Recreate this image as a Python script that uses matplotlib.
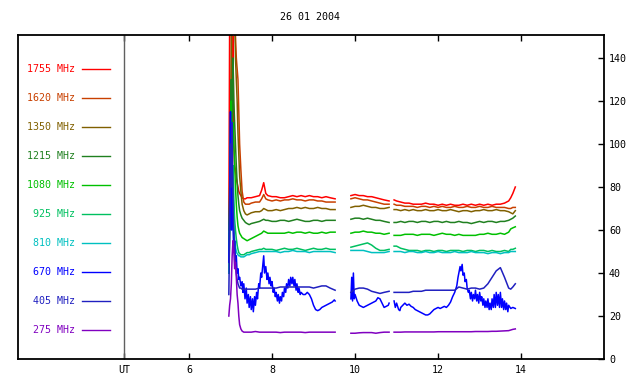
import matplotlib.pyplot as plt
import numpy as np

plt.rcParams['font.family'] = 'DejaVu Sans Mono'
plt.rcParams['font.size'] = 7.2

nan = np.nan

# time axis (UT hours), gaps in the record at 9.7 and 10.88
t = ([6.96, 6.98, 7.00, 7.02, 7.04, 7.06, 7.08, 7.10, 7.12, 7.14, 7.16, 7.18, 7.20, 7.22,
      7.25, 7.28, 7.32, 7.36, 7.40, 7.45, 7.50, 7.60, 7.70, 7.75, 7.80, 7.85, 7.90,
      8.0, 8.1, 8.2, 8.3, 8.4, 8.5, 8.6, 8.7, 8.8, 8.9, 9.0, 9.1, 9.2, 9.3, 9.4, 9.52]
     + [9.7]
     + [9.90, 10.0, 10.1, 10.2, 10.3, 10.4, 10.5, 10.6, 10.7, 10.82]
     + [10.88]
     + [10.94, 11.0, 11.1, 11.2, 11.3, 11.4, 11.5, 11.6, 11.7, 11.8, 11.9, 12.0, 12.1, 12.2,
        12.3, 12.4, 12.5, 12.6, 12.7, 12.8, 12.9, 13.0, 13.1, 13.2, 13.3, 13.4, 13.5, 13.6,
        13.7, 13.75, 13.8, 13.86])

f1755 = ([60, 160, 160, 160, 120, 150, 100, 90, 88, 84, 82, 80, 78, 77,
          76, 75, 74.5, 74.5, 75, 75, 75, 75.5, 76, 78.5, 82, 77, 76,
          75.5, 75.5, 75, 75, 75.5, 76, 75.5, 76, 75.5, 76, 75.5, 75.5, 75, 75.5, 75, 74.5]
         + [nan]
         + [76, 76.5, 76, 76, 75.5, 75.5, 75, 74.5, 74, 73.5]
         + [nan]
         + [74, 73.5, 73, 72.5, 72.5, 72, 72, 72, 72.5, 72, 72, 71.5, 72, 71.5,
            72, 71.5, 71.5, 72, 71.5, 72, 71.5, 72, 71.5, 72, 71.5, 72, 72, 72.5,
            73.5, 75, 77, 80])

f1620 = ([40, 60, 90, 130, 160, 160, 160, 160, 150, 140, 135, 130, 115, 100,
          88, 78, 73, 72, 72, 72, 72.5, 73, 73, 74.5, 76.5, 74.5, 74,
          73.5, 74, 73.5, 74, 74, 74.5, 74, 74, 73.5, 74, 74, 73.5, 73.5, 73, 73, 73]
         + [nan]
         + [74.5, 75, 74.5, 74, 74, 73.5, 73, 72.5, 72, 72]
         + [nan]
         + [72, 71.5, 71.5, 71, 71, 71, 70.5, 71, 71, 70.5, 71, 70.5, 71, 70.5,
            70.5, 71, 70.5, 70.5, 71, 70.5, 70.5, 71, 70.5, 70.5, 71, 70.5, 70.5, 70.5,
            70, 70, 70.5, 70.5])

f1350 = ([50, 70, 100, 150, 160, 160, 160, 160, 140, 130, 120, 105, 95, 85,
          78, 72, 69, 67.5, 67, 67.5, 68, 68.5, 68.5, 69, 70, 69.5, 69,
          69, 69.5, 69, 69.5, 70, 70, 70.5, 70, 70.5, 70, 70, 70.5, 70, 70, 69.5, 69.5]
         + [nan]
         + [70.5, 71, 71, 71.5, 71, 70.5, 70.5, 70, 70, 70.5]
         + [nan]
         + [69.5, 69.5, 69, 69.5, 69, 69.5, 69, 69, 69.5, 69, 69, 69.5, 69, 69,
            69.5, 69, 68.5, 69, 69, 68.5, 69, 69, 69.5, 69, 69, 69.5, 69, 69,
            68.5, 68, 67.5, 69])

f1215 = ([45, 80, 110, 130, 100, 140, 120, 110, 100, 90, 82, 76, 72, 69,
          67, 65.5, 64.5, 63.5, 63, 62.5, 63, 63.5, 64, 64.5, 65, 64.5, 64.5,
          64, 64, 64.5, 64.5, 64, 64.5, 65, 64.5, 64, 64, 64.5, 64.5, 64, 64.5, 64.5, 64.5]
         + [nan]
         + [65, 65.5, 65.5, 65, 65.5, 65, 64.5, 64.5, 64, 63.5]
         + [nan]
         + [63.5, 63.5, 64, 63.5, 64, 64, 63.5, 64, 64, 63.5, 64, 64, 63.5, 64,
            63.5, 63.5, 64, 63.5, 63.5, 63, 63.5, 64, 63.5, 64, 64, 63.5, 64, 64,
            64.5, 65, 65.5, 66.5])

f1080 = ([40, 70, 100, 120, 95, 110, 100, 90, 80, 72, 66, 62, 60, 58.5,
          57.5, 56.5, 56, 55.5, 55, 55.5, 56, 57, 58, 58.5, 59.5, 59, 58.5,
          58.5, 58.5, 58.5, 58.5, 59, 58.5, 59, 59, 58.5, 59, 58.5, 58.5, 59, 58.5, 59, 59]
         + [nan]
         + [58.5, 59, 59, 59.5, 59, 59, 58.5, 58.5, 58, 58.5]
         + [nan]
         + [57.5, 57.5, 57.5, 58, 58, 58, 57.5, 58, 58, 58, 57.5, 58, 58.5, 58,
            58, 57.5, 58, 57.5, 57.5, 57.5, 57.5, 58, 58, 58.5, 58, 58, 58.5, 58,
            59, 60.5, 61, 61.5])

f925 = ([45, 65, 85, 110, 70, 90, 75, 65, 60, 56, 53, 51, 49.5, 49,
         48.5, 48.5, 48.5, 49, 49.5, 49.5, 50, 50.5, 51, 51, 51.5, 51, 51,
         51, 50.5, 51, 51.5, 51, 51, 51.5, 51, 50.5, 51, 51.5, 51, 51, 51.5, 51, 51]
        + [nan]
        + [52, 52.5, 53, 53.5, 54, 53, 51.5, 50.5, 50.5, 51]
        + [nan]
        + [52.5, 52.5, 51.5, 51, 50.5, 50.5, 50.5, 50, 50.5, 50.5, 50, 50.5, 50.5, 50,
           50.5, 50.5, 50.5, 50, 50.5, 50.5, 50, 50.5, 50.5, 50, 50.5, 50, 50, 50.5,
           50, 51, 51, 51.5])

f810 = ([40, 55, 75, 90, 60, 75, 62, 55, 52, 50, 49, 48.5, 48, 48,
         47.5, 47.5, 47.5, 48, 48.5, 48.5, 49, 49.5, 50, 50, 50, 50, 50,
         50, 50, 49.5, 50, 50, 50.5, 50, 50, 50, 49.5, 50, 50, 50, 50, 50, 49.5]
        + [nan]
        + [50.5, 50.5, 50.5, 50.5, 50, 49.5, 49.5, 49.5, 49.5, 50]
        + [nan]
        + [50, 50, 50, 49.5, 50, 50, 49.5, 49.5, 50, 49.5, 49.5, 50, 49.5, 49.5,
           49.5, 50, 49.5, 49.5, 49.5, 50, 49.5, 49.5, 49.5, 49, 49.5, 49.5, 49, 49.5,
           49.5, 50, 50, 50])

f405 = ([30, 60, 100, 80, 110, 70, 60, 50, 45, 40, 37, 35, 34, 33,
         33, 32.5, 32.5, 32.5, 32.5, 32.5, 32.5, 32.5, 33, 33, 33, 33, 33,
         33, 33, 33.5, 33.5, 33.5, 33.5, 33.5, 33.5, 33.5, 33.5, 33, 33.5, 34, 34, 33, 32]
        + [nan]
        + [31, 32.5, 33, 33, 32.5, 31.5, 31, 30.5, 31, 31.5]
        + [nan]
        + [31, 31, 31, 31, 31, 31.5, 31.5, 31.5, 32, 32, 32, 32, 32, 32,
           32, 32, 33.5, 33, 32.5, 33, 33, 32.5, 33, 35, 38, 41, 42.5, 38,
           33, 32.5, 33.5, 35])

f275 = ([20, 25, 28, 35, 48, 55, 50, 42, 45, 38, 30, 26, 20, 16,
         14, 13, 12.5, 12.5, 12.5, 12.5, 12.5, 12.8, 12.5, 12.5, 12.5, 12.5, 12.5,
         12.5, 12.5, 12.3, 12.5, 12.5, 12.5, 12.5, 12.5, 12.3, 12.5, 12.5, 12.5, 12.5, 12.5, 12.5, 12.5]
        + [nan]
        + [12, 12, 12.2, 12.3, 12.3, 12.3, 12, 12.3, 12.5, 12.5]
        + [nan]
        + [12.5, 12.5, 12.5, 12.6, 12.6, 12.6, 12.6, 12.6, 12.6, 12.6, 12.6, 12.7, 12.7, 12.7,
           12.7, 12.7, 12.7, 12.7, 12.7, 12.7, 12.8, 12.8, 12.8, 12.8, 12.9, 12.9, 13, 13.1,
           13.2, 13.5, 13.8, 14])

# 670 MHz is noisy, read on a finer time step
t670 = ([6.96, 6.98, 7.00, 7.02, 7.04, 7.06, 7.08, 7.10, 7.12, 7.14, 7.16, 7.18, 7.20, 7.22,
         7.25, 7.28, 7.30, 7.32, 7.35, 7.38, 7.40, 7.43, 7.45, 7.48, 7.50, 7.53, 7.55, 7.58,
         7.60, 7.63, 7.65, 7.68, 7.70, 7.73, 7.75, 7.78, 7.80, 7.82, 7.85, 7.88, 7.90, 7.93,
         7.95, 7.98, 8.00, 8.03, 8.05, 8.08, 8.10, 8.13, 8.15, 8.18, 8.20, 8.23, 8.25, 8.28,
         8.30, 8.33, 8.35, 8.38, 8.40, 8.43, 8.45, 8.48, 8.50, 8.53, 8.55, 8.58, 8.60, 8.63,
         8.65, 8.68, 8.70, 8.75, 8.80, 8.85, 8.90, 8.95, 9.00, 9.05, 9.10, 9.15, 9.20, 9.25,
         9.30, 9.35, 9.40, 9.45, 9.50, 9.52]
        + [9.7]
        + [9.90, 9.92, 9.94, 9.96, 9.98, 10.00, 10.05, 10.10, 10.15, 10.20, 10.25, 10.30,
           10.35, 10.40, 10.45, 10.50, 10.55, 10.60, 10.65, 10.70, 10.75, 10.80, 10.82]
        + [10.88]
        + [10.94, 10.97, 11.00, 11.05, 11.08, 11.10, 11.15, 11.20, 11.25, 11.30, 11.35, 11.40,
           11.45, 11.50, 11.55, 11.60, 11.65, 11.70, 11.75, 11.80, 11.85, 11.90, 11.95, 12.00,
           12.05, 12.10, 12.15, 12.20, 12.25, 12.30, 12.35, 12.40, 12.45, 12.48, 12.50, 12.53,
           12.55, 12.58, 12.60, 12.63, 12.65, 12.68, 12.70, 12.73, 12.75, 12.78, 12.80, 12.83,
           12.85, 12.88, 12.90, 12.93, 12.95, 12.98, 13.00, 13.03, 13.05, 13.08, 13.10, 13.13,
           13.15, 13.18, 13.20, 13.23, 13.25, 13.28, 13.30, 13.33, 13.35, 13.38, 13.40, 13.43,
           13.45, 13.48, 13.50, 13.53, 13.55, 13.58, 13.60, 13.63, 13.65, 13.68, 13.70, 13.75,
           13.80, 13.86])

f670 = ([45, 75, 115, 60, 90, 62, 50, 55, 45, 48, 40, 42, 37, 38,
         34, 36, 31, 35, 28, 33, 26, 30, 24, 29, 23, 28, 22, 29,
         25, 31, 28, 35, 33, 40, 38, 44, 48, 40, 43, 37, 40, 35,
         38, 34, 36, 31, 33, 29, 31, 27, 30, 26, 29, 27, 31, 29,
         33, 31, 35, 33, 37, 34, 38, 35, 38, 34, 37, 32, 35, 31,
         33, 30, 31, 30, 30, 31, 30, 28, 25, 23, 22.5, 23, 24, 24.5,
         25, 25.5, 26, 26.5, 27.5, 27]
        + [nan]
        + [28, 38, 27, 40, 28, 30, 27, 25, 24.5, 24, 24.5, 25,
           25.5, 26, 26.5, 27, 28.5, 28, 26, 24, 24.5, 25, 26]
        + [nan]
        + [27, 24, 26, 23, 22.5, 24, 25, 26, 25, 25.5, 24.5, 24,
           23, 22.5, 22, 21.5, 21, 20.5, 20.5, 21, 22, 23, 23.5, 24,
           23.5, 24, 24.5, 24, 25, 26.5, 29, 31, 34, 38, 40, 43,
           41, 44, 39, 40, 36, 37, 33, 31, 32, 28, 31, 27,
           30, 28, 32, 27, 30, 26, 31, 27, 29, 25, 28, 24,
           27, 24, 28, 23, 26, 23, 28, 24, 30, 24, 31, 25,
           30, 24, 31, 24, 28, 23, 27, 23, 26, 22, 25, 23.5,
           24, 23.5])

labels = ['1755 MHz', '1620 MHz', '1350 MHz', '1215 MHz', '1080 MHz',
          '925 MHz', '810 MHz', '670 MHz', '405 MHz', '275 MHz']
colors = ['#ff0000', '#c84000', '#806000', '#208020', '#00c000',
          '#00c060', '#00c0c0', '#0000ff', '#2020c0', '#8000c0']
series = [f1755, f1620, f1350, f1215, f1080, f925, f810, f670, f405, f275]

fig = plt.figure(figsize=(6.4, 3.84), dpi=100)
ax = fig.add_axes([0.028, 0.065, 0.916, 0.844])

for lab, col, ys in zip(labels, colors, series):
    xs = t670 if lab == '670 MHz' else t
    ax.plot(xs, ys, color=col, lw=1.1)

# legend drawn inside the left part of the box
ut = 4.43
for i, (lab, col) in enumerate(zip(labels, colors)):
    y = 13.5 * (len(labels) - i)
    ax.text(3.25, y, lab, color=col, ha='right', va='center')
    ax.plot([3.42, 4.1], [y, y], color=col, lw=1.0)

ax.axvline(ut, color='#606060', lw=1.0)

ax.set_xlim(1.88, 16.0)
ax.set_ylim(0, 150.7)
ax.set_xticks([ut, 6, 8, 10, 12, 14])
ax.set_xticklabels(['UT', '6', '8', '10', '12', '14'])
ax.set_yticks(range(0, 141, 20))
ax.yaxis.tick_right()
ax.tick_params(axis='x', direction='in', top=True, length=4, pad=4, width=1)
ax.tick_params(axis='y', direction='in', left=False, right=True, length=4, pad=3.5, width=1)
for sp in ax.spines.values():
    sp.set_linewidth(1.3)

fig.text(0.484, 0.955, '26 01 2004', ha='center', va='center')

fig.savefig('out.png', dpi=100)
